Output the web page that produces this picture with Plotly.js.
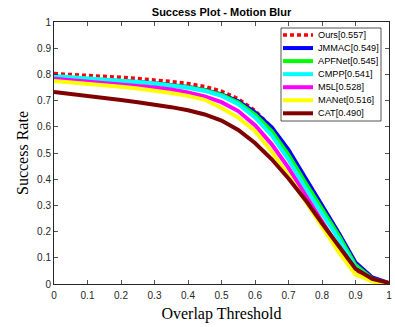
<!DOCTYPE html>
<html>
<head>
<meta charset="utf-8">
<script src="https://cdn.plot.ly/plotly-3.0.1.min.js"></script>
<style>html,body{margin:0;padding:0;background:#fff;}#chart{width:395px;height:327px;}</style>
</head>
<body>
<div id="chart"></div>
<script>
// ---- data ----
const thresholds = [0,0.05,0.1,0.15,0.2,0.25,0.3,0.35,0.4,0.45,0.5,0.55,0.6,0.65,0.7,0.75,0.8,0.85,0.9,0.95,1.0];
const seriesNames = ["Ours[0.557]","JMMAC[0.549]","APFNet[0.545]","CMPP[0.541]","M5L[0.528]","MANet[0.516]","CAT[0.490]"];
const ours   = [0.803,0.800,0.797,0.793,0.789,0.784,0.779,0.773,0.765,0.754,0.736,0.707,0.662,0.597,0.510,0.405,0.300,0.195,0.080,0.025,0.002];
const jmmac  = [0.789,0.786,0.783,0.779,0.775,0.771,0.766,0.760,0.752,0.741,0.724,0.697,0.655,0.598,0.512,0.405,0.300,0.195,0.082,0.025,0.003];
const apfnet = [0.788,0.785,0.782,0.778,0.774,0.770,0.765,0.759,0.751,0.740,0.722,0.693,0.647,0.583,0.493,0.387,0.284,0.185,0.072,0.020,0.002];
const cmpp   = [0.794,0.790,0.786,0.781,0.776,0.771,0.765,0.758,0.749,0.737,0.718,0.686,0.636,0.567,0.475,0.368,0.268,0.172,0.062,0.017,0.002];
const m5l    = [0.783,0.778,0.773,0.768,0.763,0.757,0.750,0.742,0.731,0.716,0.694,0.660,0.606,0.533,0.443,0.340,0.236,0.137,0.047,0.011,0.001];
const manet  = [0.775,0.770,0.765,0.759,0.753,0.746,0.738,0.729,0.718,0.703,0.672,0.635,0.584,0.505,0.415,0.318,0.215,0.122,0.037,0.010,0.000];
const cat    = [0.733,0.726,0.718,0.710,0.702,0.694,0.685,0.675,0.663,0.647,0.624,0.588,0.538,0.476,0.403,0.322,0.232,0.145,0.058,0.020,0.004];
const tickVals = [0,0.1,0.2,0.3,0.4,0.5,0.6,0.7,0.8,0.9,1];
const tickText = ["0","0.1","0.2","0.3","0.4","0.5","0.6","0.7","0.8","0.9","1"];

// ---- styles ----
const seriesValues = [ours,jmmac,apfnet,cmpp,m5l,manet,cat];
const colors = ["#ff0000","#0000ff","#00ff00","#00ffff","#ff00ff","#ffff00","#800000"];
const dashes = ["4px,3px","solid","solid","solid","solid","solid","solid"];
const widths = [3.5,4,4,4,4,4,4];

const traces = seriesValues.map((v,i)=>({
  x: thresholds, y: v, type:'scatter', mode:'lines', name: seriesNames[i],
  line:{color:colors[i], width:widths[i], dash:dashes[i]}, showlegend:false, hoverinfo:'skip'
}));

// plot area geometry in px for the hand-built legend box
const L=54, W=335, T=22, H=262;
const px2x = p => (p-L)/W;
const py2y = p => (T+H-p)/H;
const shapes = [{type:'rect', xref:'paper', yref:'paper', x0:px2x(281), x1:px2x(381), y0:py2y(121), y1:py2y(28),
  line:{color:'#262626', width:0.8}, fillcolor:'#ffffff', layer:'above'}];
const annotations = [];
seriesNames.forEach((n,i)=>{
  const yy = py2y(35 + 13.05*i);
  shapes.push({type:'line', xref:'paper', yref:'paper', x0:px2x(283), x1:px2x(313), y0:yy, y1:yy,
    line:{color:colors[i], width:widths[i], dash:dashes[i]}, layer:'above'});
  annotations.push({xref:'paper', yref:'paper', x:px2x(315.5), y:yy, xanchor:'left', yanchor:'middle',
    text:n, showarrow:false, font:{family:'Liberation Sans, Arial, sans-serif', size:9.2, color:'#000'}});
});

const axCommon = {
  range:[0,1], tickmode:'array', tickvals:tickVals, ticktext:tickText,
  ticks:'inside', ticklen:4, tickwidth:0.8, tickcolor:'#262626',
  showline:true, linecolor:'#262626', linewidth:1, mirror:'ticks',
  showgrid:false, zeroline:false, fixedrange:true,
  tickfont:{family:'Liberation Sans, Arial, sans-serif', size:10, color:'#262626'}
};

const layout = {
  width:395, height:327, autosize:false,
  margin:{l:54, r:6, t:22, b:43, pad:0},
  paper_bgcolor:'#fff', plot_bgcolor:'#fff',
  title:{text:'<b>Success Plot - Motion Blur</b>', font:{family:'Liberation Sans, Arial, sans-serif', size:11, color:'#000'},
    x:0.5, xref:'paper', xanchor:'center', y:1-12/327, yref:'container', yanchor:'middle'},
  xaxis:Object.assign({}, axCommon, {ticklabelstandoff:2, title:{text:'Overlap Threshold', font:{family:'Liberation Serif, Times New Roman, serif', size:16, color:'#000'}, standoff:7}}),
  yaxis:Object.assign({}, axCommon, {title:{text:'Success Rate', font:{family:'Liberation Serif, Times New Roman, serif', size:16, color:'#000'}, standoff:4}}),
  shapes:shapes, annotations:annotations, showlegend:false
};

Plotly.newPlot('chart', traces, layout, {staticPlot:true, displayModeBar:false});
</script>
</body>
</html>
